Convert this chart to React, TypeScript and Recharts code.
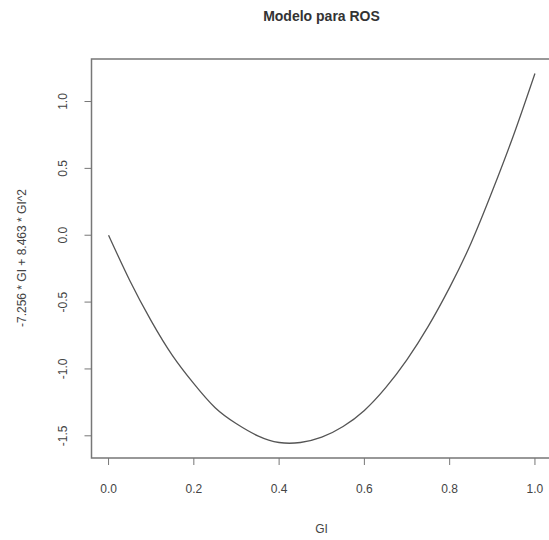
import { LineChart, Line, XAxis, YAxis, ReferenceArea } from "recharts";

const giValues = [0, 0.05, 0.1, 0.15, 0.2, 0.25, 0.3, 0.35, 0.4, 0.45, 0.5, 0.55, 0.6, 0.65, 0.7, 0.75, 0.8, 0.85, 0.9, 0.95, 1.0];
const rosValues = [0, -0.34, -0.64, -0.9, -1.11, -1.29, -1.41, -1.5, -1.55, -1.55, -1.51, -1.43, -1.31, -1.14, -0.93, -0.68, -0.39, -0.06, 0.33, 0.75, 1.21];
const xTicks = [0, 0.2, 0.4, 0.6, 0.8, 1.0];
const yTicks = [-1.5, -1.0, -0.5, 0.0, 0.5, 1.0];

const data = giValues.map((gi, i) => ({ gi, ros: rosValues[i] }));

const FONT = "'Liberation Sans', Arial, sans-serif";
const INK = "#444";

const XTick = ({ x, y, payload }: any) => (
  <text x={x} y={y + 26} textAnchor="middle" fontSize={12} fill={INK} fontFamily={FONT}>
    {payload.value.toFixed(1)}
  </text>
);

const YTick = ({ y, payload }: any) => (
  <text
    x={63}
    y={y}
    textAnchor="middle"
    dominantBaseline="central"
    fontSize={12}
    fill={INK}
    fontFamily={FONT}
    transform={`rotate(-90, 63, ${y})`}
  >
    {payload.value.toFixed(1)}
  </text>
);

const App = () => {
  return (
    <div style={{ position: "absolute", left: 0, top: 0, width: 549, height: 540, overflow: "hidden", background: "#fff" }}>
      <div
        style={{
          position: "absolute",
          top: 8,
          left: 0,
          width: 643,
          textAlign: "center",
          fontFamily: FONT,
          fontWeight: "bold",
          fontSize: 14,
          color: "#333",
        }}
      >
        Modelo para ROS
      </div>
      <LineChart
        width={560}
        height={540}
        data={data}
        margin={{ top: 59, right: 8, bottom: 0, left: 0 }}
      >
        <XAxis
          dataKey="gi"
          type="number"
          domain={[-0.04, 1.04]}
          ticks={xTicks}
          tick={<XTick />}
          tickSize={7}
          axisLine={false}
          tickLine={{ stroke: "#777" }}
          height={82}
          allowDataOverflow
        />
        <YAxis
          type="number"
          domain={[-1.666, 1.318]}
          ticks={yTicks}
          tick={<YTick />}
          tickSize={7}
          axisLine={false}
          tickLine={{ stroke: "#777" }}
          width={91.5}
          allowDataOverflow
        />
        <ReferenceArea
          x1={-0.04}
          x2={1.04}
          y1={-1.666}
          y2={1.318}
          fill="none"
          fillOpacity={0}
          stroke="#777"
          strokeWidth={1.5}
        />
        <Line
          dataKey="ros"
          type="natural"
          stroke="#555"
          strokeWidth={1.3}
          dot={false}
          isAnimationActive={false}
        />
      </LineChart>
      <div
        style={{
          position: "absolute",
          top: 522,
          left: 0,
          width: 643,
          textAlign: "center",
          fontFamily: FONT,
          fontSize: 12,
          color: INK,
        }}
      >
        GI
      </div>
      <div
        style={{
          position: "absolute",
          left: 22,
          top: 258,
          transform: "translate(-50%, -50%) rotate(-90deg)",
          whiteSpace: "nowrap",
          fontFamily: FONT,
          fontSize: 12,
          color: INK,
        }}
      >
        -7.256 * GI + 8.463 * GI^2
      </div>
    </div>
  );
};

export default App;
